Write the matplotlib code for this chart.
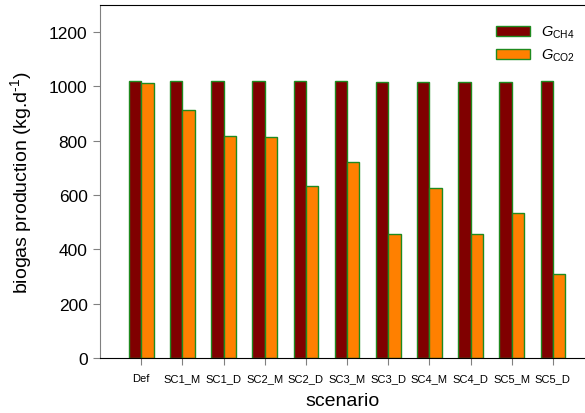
import matplotlib
matplotlib.use("Agg")
import matplotlib.pyplot as plt
import numpy as np

plt.rcParams['font.family'] = ['Liberation Sans', 'DejaVu Sans']
plt.rcParams['mathtext.fontset'] = 'custom'
plt.rcParams['mathtext.rm'] = 'Liberation Sans'
plt.rcParams['mathtext.it'] = 'Liberation Sans:italic'

scenarios = ['Def', 'SC1_M', 'SC1_D', 'SC2_M', 'SC2_D', 'SC3_M', 'SC3_D',
             'SC4_M', 'SC4_D', 'SC5_M', 'SC5_D']
g_ch4 = [1021, 1021, 1021, 1020, 1020, 1019, 1018, 1018, 1017, 1016, 1020]
g_co2 = [1011, 913, 819, 815, 635, 721, 458, 626, 458, 534, 310]

fig = plt.figure(figsize=(5.85, 4.14), dpi=100)
ax = fig.add_axes([0.171, 0.1329, 0.829, 0.8526])

x = np.arange(len(scenarios))
w = 0.3
ax.bar(x - w / 2, g_ch4, w, color='#800000', edgecolor='#1f8a1f', linewidth=1.0,
       label=r'$G_{\mathrm{CH4}}$')
ax.bar(x + w / 2, g_co2, w, color='#ff8000', edgecolor='#1f8a1f', linewidth=1.0,
       label=r'$G_{\mathrm{CO2}}$')

ax.set_xlim(-1.0, 10.78)
ax.set_ylim(0, 1300)
ax.set_yticks([0, 200, 400, 600, 800, 1000, 1200])
ax.set_xticks(x)
ax.set_xticklabels(scenarios, fontsize=8)
ax.tick_params(axis='y', labelsize=12.5, direction='out', length=5, color='#808080', pad=4)
ax.tick_params(axis='x', direction='out', length=5, color='#808080', pad=6)

ax.spines['left'].set_color('#808080')
ax.spines['right'].set_visible(False)
ax.spines['top'].set_color('black')
ax.spines['bottom'].set_color('black')

ax.set_xlabel('scenario', fontsize=14, labelpad=6)
ax.set_ylabel(r'biogas production (kg.d$^{\text{-1}}$)', fontsize=14, labelpad=11)

leg = ax.legend(loc='upper right', frameon=False, fontsize=10.5,
                handlelength=2.3, handleheight=0.75, labelspacing=0.45,
                bbox_to_anchor=(1.0, 0.975), borderaxespad=0.3, handletextpad=0.75)

fig.savefig('out.png', dpi=100)
